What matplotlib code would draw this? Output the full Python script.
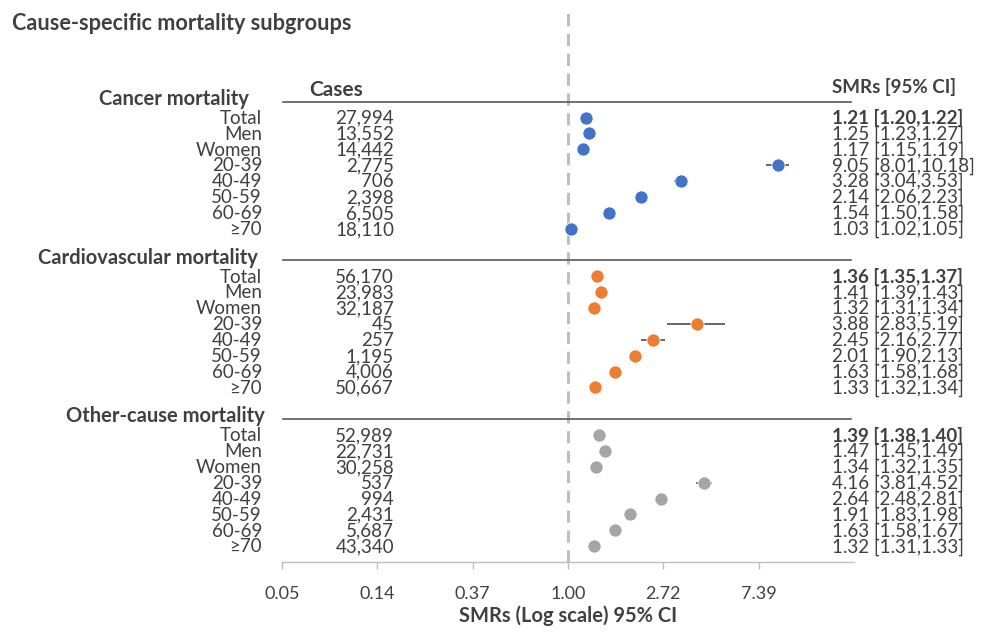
import numpy as np
import matplotlib
matplotlib.use("Agg")
import matplotlib.pyplot as plt
import matplotlib.transforms as mtransforms

plt.rcParams["font.family"] = ["Lato", "DejaVu Sans"]

groups = ["Cancer mortality", "Cardiovascular mortality", "Other-cause mortality"]
rows = ["Total", "Men", "Women", "20-39", "40-49", "50-59", "60-69", "≥70"]
colors = ["#4472C4", "#ED7D31", "#A5A5A5"]

cancer_cases = [27994, 13552, 14442, 2775, 706, 2398, 6505, 18110]
cancer_smr = [1.21, 1.25, 1.17, 9.05, 3.28, 2.14, 1.54, 1.03]
cancer_lo = [1.20, 1.23, 1.15, 8.01, 3.04, 2.06, 1.50, 1.02]
cancer_hi = [1.22, 1.27, 1.19, 10.18, 3.53, 2.23, 1.58, 1.05]

cardio_cases = [56170, 23983, 32187, 45, 257, 1195, 4006, 50667]
cardio_smr = [1.36, 1.41, 1.32, 3.88, 2.45, 2.01, 1.63, 1.33]
cardio_lo = [1.35, 1.39, 1.31, 2.83, 2.16, 1.90, 1.58, 1.32]
cardio_hi = [1.37, 1.43, 1.34, 5.19, 2.77, 2.13, 1.68, 1.34]

other_cases = [52989, 22731, 30258, 537, 994, 2431, 5687, 43340]
other_smr = [1.39, 1.47, 1.34, 4.16, 2.64, 1.91, 1.63, 1.32]
other_lo = [1.38, 1.45, 1.32, 3.81, 2.48, 1.83, 1.58, 1.31]
other_hi = [1.40, 1.49, 1.35, 4.52, 2.81, 1.98, 1.67, 1.33]

tick_vals = np.exp(np.arange(-3, 3))
tick_labels = ["0.05", "0.14", "0.37", "1.00", "2.72", "7.39"]

data = [
    (cancer_cases, cancer_smr, cancer_lo, cancer_hi),
    (cardio_cases, cardio_smr, cardio_lo, cardio_hi),
    (other_cases, other_smr, other_lo, other_hi),
]
header_right = [249, 258, 265]  # where each group title ends (px)

txt = "#404040"
W, H = 981, 634
fig = plt.figure(figsize=(W / 100, H / 100), dpi=100)
ax = fig.add_axes([282 / W, 1 - 562 / H, (854 - 282) / W, (562 - 8) / H])
ax.set_xscale("log")
ax.set_xlim(np.exp(-3), np.exp(3))
ax.set_ylim(29, -5.9)

# mixed transform: x in figure fraction, y in data rows
tr = mtransforms.blended_transform_factory(fig.transFigure, ax.transData)
fx = lambda px: px / W

ax.axvline(1.0, color="#BFBFBF", lw=2.2, ls=(0, (4, 2.5)), zorder=1)

for g, (name, (cases, smr, lo, hi)) in enumerate(zip(groups, data)):
    base = g * 10
    ys = np.arange(8) + base + 1
    smr = np.array(smr)
    xerr = [smr - np.array(lo), np.array(hi) - smr]
    ax.errorbar(smr, ys, xerr=xerr, fmt="none", ecolor="#595959", elinewidth=1.3, zorder=2)
    ax.plot(smr, ys, "o", color=colors[g], ms=9.5, mec="white", mew=0.6, zorder=3)
    # separator line
    ax.plot([fx(283), fx(851)], [base, base], transform=tr, color="#595959", lw=1.2, clip_on=False)
    ax.text(fx(header_right[g]), base + 0.2, name, transform=tr, ha="right", va="baseline",
            fontsize=14.5, fontweight="bold", color=txt)
    for i, r in enumerate(rows):
        y = ys[i] + 0.05
        ax.text(fx(262), y, r, transform=tr, ha="right", va="center", fontsize=13.5, color=txt)
        ax.text(fx(394), y, f"{cases[i]:,}", transform=tr, ha="right", va="center",
                fontsize=13.5, color=txt)
        ax.text(fx(832), y, f"{smr[i]:.2f} [{lo[i]:.2f},{hi[i]:.2f}]", transform=tr,
                ha="left", va="center", fontsize=13.5, color=txt,
                fontweight="bold" if i == 0 else "normal")

ax.text(fx(336), -0.75, "Cases", transform=tr, ha="center", va="center",
        fontsize=15, fontweight="bold", color=txt)
ax.text(fx(832), -0.9, "SMRs [95% CI]", transform=tr, ha="left", va="center",
        fontsize=13.5, fontweight="bold", color=txt)

fig.text(12 / W, 1 - 23 / H, "Cause-specific mortality subgroups", ha="left", va="center",
         fontsize=15.6, fontweight="bold", color=txt)

ax.set_xticks(tick_vals)
ax.set_xticklabels(tick_labels)
ax.xaxis.set_minor_locator(matplotlib.ticker.NullLocator())
ax.tick_params(axis="x", length=5, width=1, color="#BFBFBF", labelsize=13, labelcolor=txt, pad=12)
ax.set_yticks([])
for s in ["top", "left", "right"]:
    ax.spines[s].set_visible(False)
ax.spines["bottom"].set_color("#BFBFBF")
ax.spines["bottom"].set_linewidth(1)
ax.set_xlabel("SMRs (Log scale) 95% CI", fontsize=14.5, fontweight="bold", color=txt, labelpad=3)

fig.savefig("out.png", dpi=100)
